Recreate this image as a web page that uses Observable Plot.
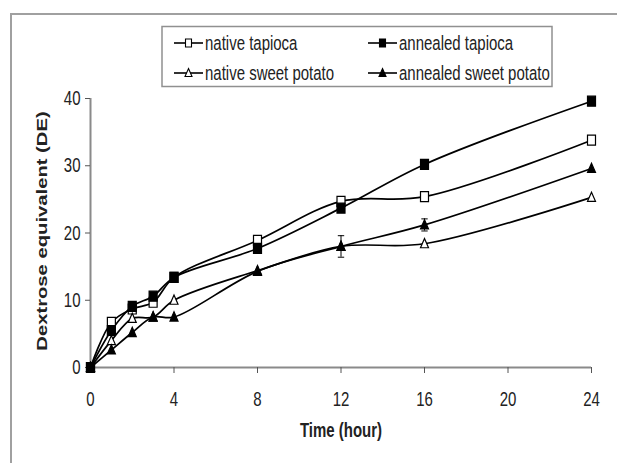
<!DOCTYPE html>
<html>
<head>
<meta charset="utf-8">
<script src="https://cdn.jsdelivr.net/npm/d3@7"></script>
<script src="https://cdn.jsdelivr.net/npm/@observablehq/plot@0.6"></script>
<style>
  html, body { margin: 0; padding: 0; background: #fff; }
  #chart { position: relative; width: 617px; height: 463px; }
</style>
</head>
<body>
<div id="chart"></div>
<script>
const time = [0, 1, 2, 3, 4, 8, 12, 16, 24];
const nativeTapioca       = [0, 6.7, 8.7, 9.7, 13.4, 18.9, 24.7, 25.4, 33.8];
const annealedTapioca     = [0, 5.5, 9.1, 10.6, 13.4, 17.7, 23.7, 30.2, 39.6];
const nativeSweetPotato   = [0, 4.0, 7.3, 7.5, 10.0, 14.4, 18.0, 18.4, 25.3];
const annealedSweetPotato = [0, 2.6, 5.2, 7.5, 7.5, 14.3, 18.0, 21.2, 29.6];

const errNativeTapioca       = [0, 0, 0, 0, 0, 0, 0.5, 0, 0];
const errAnnealedTapioca     = [0, 0, 0, 0, 0, 0, 0, 0, 0];
const errNativeSweetPotato   = [0, 0, 0, 0, 0, 0, 0, 0, 0];
const errAnnealedSweetPotato = [0, 0, 0, 0, 0, 0, 1.6, 0.9, 0];

const seriesNames = ["native tapioca", "annealed tapioca", "native sweet potato", "annealed sweet potato"];
const xTicks = [0, 4, 8, 12, 16, 20, 24];
const yTicks = [0, 10, 20, 30, 40];
const xLabel = "Time (hour)";
const yLabel = "Dextrose equivalent (DE)";

const STRETCH = 1.35; // reference is vertically stretched

const sqSymbol = {draw(ctx, size) { const s = Math.sqrt(size / Math.PI); ctx.rect(-s, -s * 1.25, 2 * s, 2.5 * s); }};
const triSymbol = {draw(ctx, size) { const s = Math.sqrt(size / Math.PI); ctx.moveTo(0, -s * 1.3); ctx.lineTo(s, s); ctx.lineTo(-s, s); ctx.closePath(); }};
const capSymbol = {draw(ctx, size) { const w = Math.sqrt(size / Math.PI); ctx.moveTo(-w, 0); ctx.lineTo(w, 0); }};

const seriesDefs = [
  {name: seriesNames[0], values: nativeTapioca, err: errNativeTapioca, symbol: sqSymbol, fill: "white"},
  {name: seriesNames[1], values: annealedTapioca, err: errAnnealedTapioca, symbol: sqSymbol, fill: "black"},
  {name: seriesNames[2], values: nativeSweetPotato, err: errNativeSweetPotato, symbol: triSymbol, fill: "white"},
  {name: seriesNames[3], values: annealedSweetPotato, err: errAnnealedSweetPotato, symbol: triSymbol, fill: "black"}
];

const rows = seriesDefs.flatMap(s => time.map((t, i) => ({series: s.name, t, v: s.values[i], e: s.err[i]})));
const errRows = rows.filter(d => d.e > 0);

const marks = [
  Plot.ruleY([0], {stroke: "#8a8a8a", strokeWidth: 2}),
  Plot.ruleX([0], {stroke: "#8a8a8a", strokeWidth: 2}),
  Plot.axisX({ticks: xTicks, tickSize: 6, tickPadding: 20, label: null, stroke: "#555", tickFormat: d => String(d)}),
  Plot.axisY({ticks: yTicks, tickSize: 5, tickPadding: 5, label: null, stroke: "#555", tickFormat: d => String(d)}),
  Plot.ruleX(errRows, {x: "t", y1: d => d.v - d.e, y2: d => d.v + d.e, stroke: "black", strokeWidth: 1}),
  Plot.dot(errRows, {x: "t", y: d => d.v - d.e, symbol: capSymbol, r: 3.2, stroke: "black", strokeWidth: 1}),
  Plot.dot(errRows, {x: "t", y: d => d.v + d.e, symbol: capSymbol, r: 3.2, stroke: "black", strokeWidth: 1})
];
for (const s of seriesDefs) {
  const data = rows.filter(d => d.series === s.name);
  marks.push(Plot.line(data, {x: "t", y: "v", curve: "catmull-rom", stroke: "black", strokeWidth: 1.7}));
}
for (const s of seriesDefs) {
  const data = rows.filter(d => d.series === s.name);
  marks.push(Plot.dot(data, {x: "t", y: "v", symbol: s.symbol, r: 4, fill: s.fill, stroke: "black", strokeWidth: 1.2}));
}

const svg = Plot.plot({
  width: 617,
  height: 463,
  marginLeft: 90,
  marginRight: 26,
  marginTop: 98,
  marginBottom: 96,
  x: {domain: [0, 24]},
  y: {domain: [0, 40]},
  style: {fontFamily: "'Liberation Sans', Arial, sans-serif", fontSize: "15px", color: "#222", background: "white", overflow: "visible"},
  marks
});

document.getElementById("chart").appendChild(svg);
const root = d3.select(svg);

// stretch axis tick labels vertically around their centres
root.selectAll('g[aria-label="x-axis tick label"] text, g[aria-label="y-axis tick label"] text').each(function() {
  const b = this.getBBox();
  const cx = b.x + b.width / 2, cy = b.y + b.height / 2;
  const prev = this.getAttribute("transform") || "";
  this.setAttribute("transform", `${prev} translate(${cx},${cy}) scale(1,${STRETCH}) translate(${-cx},${-cy})`);
});

// Outer border (left and top edges)
root.append("path").attr("d", "M11,463 L11,14 L617,14").attr("fill", "none").attr("stroke", "#a0a0a0").attr("stroke-width", 2);

// Axis titles
root.append("text").attr("transform", `translate(341,430) scale(1,${STRETCH})`).attr("dy", "0.35em").attr("text-anchor", "middle")
  .attr("font-weight", "bold").attr("font-size", 15).attr("fill", "#222").text(xLabel);
root.append("text").attr("transform", `translate(42,231) rotate(-90) scale(${STRETCH},1)`).attr("dy", "0.35em").attr("text-anchor", "middle")
  .attr("font-weight", "bold").attr("font-size", 15).attr("fill", "#222").text(yLabel);

// Legend
const lg = root.append("g");
lg.append("rect").attr("x", 162).attr("y", 26.5).attr("width", 390).attr("height", 60)
  .attr("fill", "white").attr("stroke", "#909090").attr("stroke-width", 1.5);
const legendPos = [[174, 43], [368, 43], [174, 73], [368, 73]];
const sqPath = "M-3,-4H3V4H-3Z";
const triPath = "M0,-4.5L3.5,3.5L-3.5,3.5Z";
seriesDefs.forEach((s, i) => {
  const [lx, ly] = legendPos[i];
  lg.append("line").attr("x1", lx).attr("x2", lx + 29).attr("y1", ly).attr("y2", ly).attr("stroke", "black").attr("stroke-width", 1.6);
  lg.append("path").attr("d", s.symbol === sqSymbol ? sqPath : triPath).attr("transform", `translate(${lx + 14.5},${ly})`)
    .attr("fill", s.fill).attr("stroke", "black").attr("stroke-width", 1.1);
  lg.append("text").attr("transform", `translate(${lx + 31},${ly}) scale(1,${STRETCH})`).attr("dy", "0.35em").attr("text-anchor", "start")
    .attr("font-size", 15).attr("fill", "#222").text(s.name);
});
</script>
</body>
</html>
